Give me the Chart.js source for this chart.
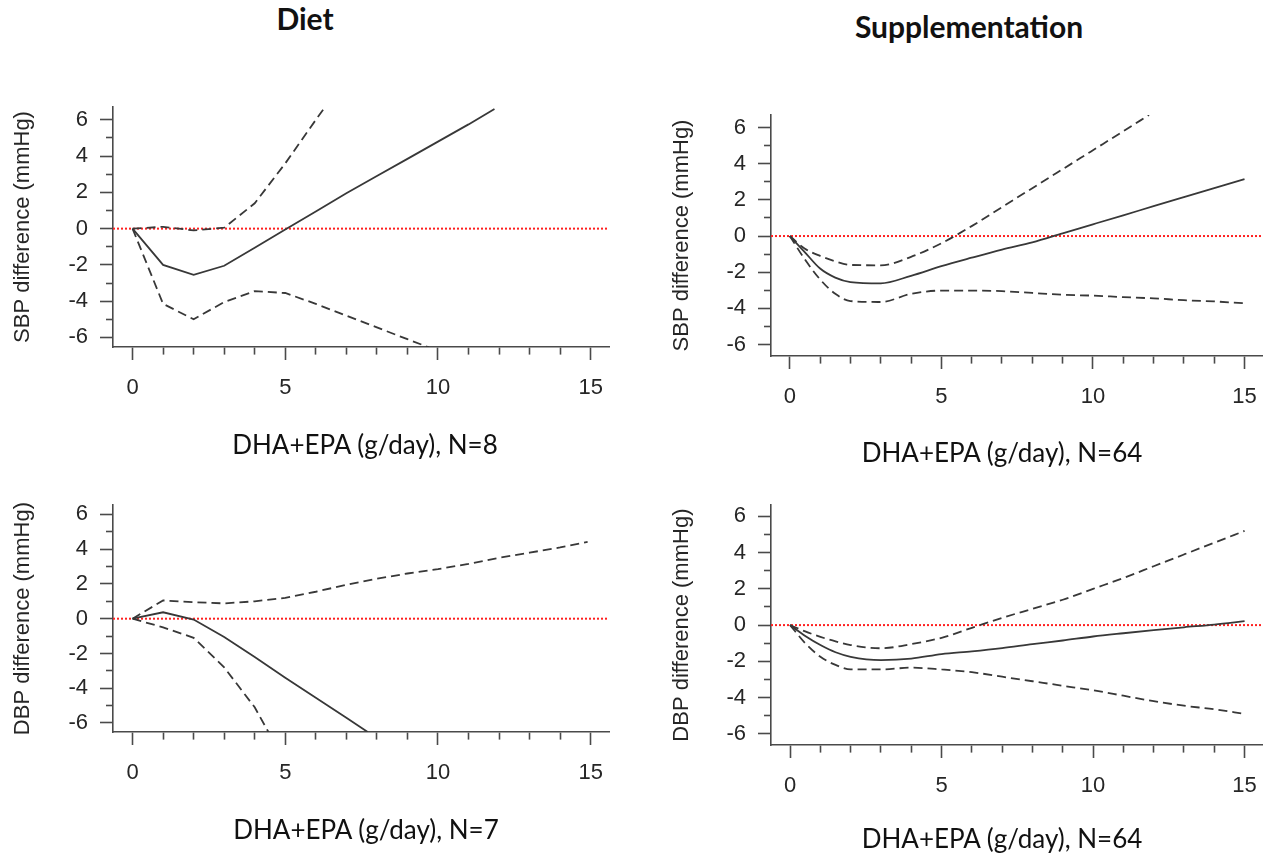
<!DOCTYPE html>
<html>
<head>
<meta charset="utf-8">
<title>DHA+EPA dose-response</title>
<script src="https://cdn.jsdelivr.net/npm/chart.js@4.4.1/dist/chart.umd.min.js"></script>
<style>
  html, body { margin: 0; padding: 0; background: #fff; }
  body { width: 1272px; height: 857px; position: relative; overflow: hidden; font-family: Lato, sans-serif; }
  .col-title { position: absolute; font-weight: 700; font-size: 30px; line-height: 30px; color: #111; white-space: nowrap; transform: translateX(-50%); }
  .x-title { position: absolute; font-size: 26px; line-height: 26px; color: #111; white-space: nowrap; transform: translateX(-50%); }
  .panel { position: absolute; }
</style>
</head>
<body>
<div class="col-title" style="left:305px; top:3px;">Diet</div>
<div class="col-title" style="left:969px; top:11px;">Supplementation</div>

<div class="panel" style="left:0; top:60px; width:636px; height:420px;"><canvas id="dietSbp"></canvas></div>
<div class="panel" style="left:658px; top:60px; width:614px; height:420px;"><canvas id="suppSbp"></canvas></div>
<div class="panel" style="left:0; top:480px; width:636px; height:377px;"><canvas id="dietDbp"></canvas></div>
<div class="panel" style="left:658px; top:480px; width:614px; height:377px;"><canvas id="suppDbp"></canvas></div>

<div class="x-title" style="left:365px; top:431px;">DHA+EPA (g/day), N=8</div>
<div class="x-title" style="left:1002px; top:439px;">DHA+EPA (g/day), N=64</div>
<div class="x-title" style="left:366px; top:816px;">DHA+EPA (g/day), N=7</div>
<div class="x-title" style="left:1002px; top:825px;">DHA+EPA (g/day), N=64</div>

<script>
// ---- Diet, systolic blood pressure (N=8) ----
const dietSbpFitDose   = [0, 1, 2, 3, 4, 5, 6, 7, 8, 9, 10, 11, 11.85];
const dietSbpFit       = [0, -2.0, -2.55, -2.05, -1.05, -0.05, 0.95, 1.95, 2.9, 3.85, 4.8, 5.75, 6.6];
const dietSbpUpperDose = [0, 1, 2, 3, 4, 5, 6, 6.3];
const dietSbpUpper     = [0, 0.1, -0.1, 0.05, 1.4, 3.6, 6.0, 6.7];
const dietSbpLowerDose = [0, 1, 2, 3, 4, 5, 6, 7, 8, 9, 9.7];
const dietSbpLower     = [0, -4.15, -5.0, -4.05, -3.45, -3.55, -4.15, -4.8, -5.45, -6.1, -6.55];

// ---- Supplementation, systolic blood pressure (N=64) ----
const suppDose         = [0, 0.5, 1, 1.5, 2, 3, 4, 5, 6, 7, 8, 9, 10, 11, 12, 13, 14, 15];
const suppSbpFit       = [0, -0.9, -1.8, -2.3, -2.55, -2.62, -2.2, -1.67, -1.2, -0.75, -0.35, 0.15, 0.65, 1.15, 1.65, 2.15, 2.65, 3.15];
const suppSbpUpperDose = [0, 0.5, 1, 1.5, 2, 3, 4, 5, 6, 7, 8, 9, 10, 11, 11.85];
const suppSbpUpper     = [0, -0.7, -1.1, -1.4, -1.6, -1.62, -1.15, -0.4, 0.55, 1.6, 2.65, 3.7, 4.75, 5.8, 6.7];
const suppSbpLower     = [0, -1.3, -2.4, -3.2, -3.6, -3.65, -3.2, -3.02, -3.02, -3.05, -3.15, -3.25, -3.3, -3.38, -3.45, -3.55, -3.62, -3.72];

// ---- Diet, diastolic blood pressure (N=7) ----
const dietDbpFitDose   = [0, 1, 2, 3, 4, 5, 6, 7, 7.7];
const dietDbpFit       = [0, 0.37, -0.05, -1.05, -2.2, -3.4, -4.55, -5.7, -6.52];
const dietDbpUpperDose = [0, 1, 2, 3, 4, 5, 6, 7, 8, 9, 10, 11, 12, 13, 14, 14.9];
const dietDbpUpper     = [0, 1.05, 0.95, 0.88, 1.0, 1.2, 1.55, 1.95, 2.3, 2.6, 2.85, 3.15, 3.5, 3.8, 4.1, 4.42];
const dietDbpLowerDose = [0, 1, 2, 3, 4, 4.45];
const dietDbpLower     = [0, -0.5, -1.1, -2.8, -5.1, -6.52];

// ---- Supplementation, diastolic blood pressure (N=64) ----
const suppDbpFit       = [0, -0.6, -1.1, -1.5, -1.75, -1.93, -1.85, -1.6, -1.45, -1.27, -1.05, -0.85, -0.63, -0.45, -0.28, -0.12, 0.03, 0.22];
const suppDbpUpper     = [0, -0.35, -0.65, -0.9, -1.1, -1.28, -1.05, -0.7, -0.15, 0.4, 0.9, 1.4, 2.0, 2.6, 3.25, 3.9, 4.55, 5.2];
const suppDbpLower     = [0, -1.0, -1.75, -2.2, -2.45, -2.45, -2.35, -2.45, -2.6, -2.85, -3.1, -3.35, -3.6, -3.9, -4.2, -4.45, -4.65, -4.9];

// Axis labelling
const xMajorEvery = 5;
const yMajorEvery = 2;
const sbpTitle = 'SBP difference (mmHg)';
const dbpTitle = 'DBP difference (mmHg)';

const AXIS_COLOR = '#4a4a4a';
const LINE_COLOR = '#383838';
const TEXT_COLOR = '#262626';
const DASH = [9, 5];
const TICK_LEN = 13;
const MINOR_LEN = 7;

function pts(xs, ys) { return xs.map((x, i) => ({ x: x, y: ys[i] })); }

function curve(xs, ys, dash, smooth) {
  return {
    data: pts(xs, ys),
    borderColor: LINE_COLOR,
    borderWidth: 1.8,
    borderDash: dash,
    pointRadius: 0,
    tension: smooth ? 0.4 : 0,
    cubicInterpolationMode: smooth ? 'monotone' : 'default',
    fill: false
  };
}

function makePanel(id, p) {
  const minorX = v => v % xMajorEvery !== 0;
  const minorY = v => v % yMajorEvery !== 0;
  return new Chart(document.getElementById(id), {
    type: 'line',
    data: {
      datasets: [
        curve(p.fitX, p.fit, [], p.smooth),
        curve(p.upX, p.up, DASH, p.smooth),
        curve(p.loX, p.lo, DASH, p.smooth),
        {
          // reference line at zero difference
          data: [{ x: p.xMin, y: 0 }, { x: p.xMax, y: 0 }],
          borderColor: '#ff2020',
          borderWidth: 2,
          borderDash: [2, 2],
          pointRadius: 0
        }
      ]
    },
    options: {
      responsive: true,
      maintainAspectRatio: false,
      animation: false,
      events: [],
      layout: { padding: { left: 0, top: p.padTop, right: p.padRight, bottom: p.padBottom } },
      plugins: { legend: { display: false }, tooltip: { enabled: false } },
      scales: {
        x: {
          type: 'linear',
          position: 'bottom',
          min: p.xMin,
          max: p.xMax,
          afterFit: s => { s.height = p.xAxisHeight; },
          border: { display: true, color: AXIS_COLOR, width: 1.6 },
          grid: {
            drawOnChartArea: false,
            drawTicks: true,
            tickLength: TICK_LEN,
            tickColor: AXIS_COLOR,
            tickWidth: 1.6,
            tickBorderDash: c => (c.tick && minorX(c.tick.value)) ? [MINOR_LEN, 60] : []
          },
          ticks: {
            stepSize: 1,
            includeBounds: false,
            autoSkip: false,
            maxRotation: 0,
            padding: 15,
            color: TEXT_COLOR,
            font: { family: 'Liberation Sans', size: 22 },
            callback: v => minorX(v) ? '' : String(v)
          },
          title: { display: false }
        },
        y: {
          type: 'linear',
          position: 'left',
          min: p.yMin,
          max: p.yMax,
          afterFit: s => { s.width = 113; },
          border: { display: true, color: AXIS_COLOR, width: 1.6 },
          grid: {
            drawOnChartArea: false,
            drawTicks: true,
            tickLength: TICK_LEN,
            tickColor: AXIS_COLOR,
            tickWidth: 1.6,
            tickBorderDash: c => (c.tick && minorY(c.tick.value)) ? [MINOR_LEN, 60] : [],
            tickBorderDashOffset: c => (c.tick && minorY(c.tick.value)) ? MINOR_LEN + 60 - (TICK_LEN - MINOR_LEN) : 0
          },
          ticks: {
            stepSize: 1,
            includeBounds: false,
            autoSkip: false,
            padding: 12,
            color: TEXT_COLOR,
            font: { family: 'Liberation Sans', size: 22 },
            callback: v => minorY(v) ? '' : String(v)
          },
          title: {
            display: true,
            text: p.yTitle,
            color: TEXT_COLOR,
            font: { family: 'Liberation Sans', size: 22, lineHeight: 1 },
            padding: { top: p.yTitlePad, bottom: 0 }
          }
        }
      }
    }
  });
}

makePanel('dietSbp', {
  fitX: dietSbpFitDose, fit: dietSbpFit,
  upX: dietSbpUpperDose, up: dietSbpUpper,
  loX: dietSbpLowerDose, lo: dietSbpLower,
  smooth: false,
  xMin: -0.64, xMax: 15.6, yMin: -6.53, yMax: 6.71,
  padTop: 47, padRight: 27, padBottom: 23, xAxisHeight: 110, yTitlePad: 12,
  yTitle: sbpTitle
});

makePanel('suppSbp', {
  fitX: suppDose, fit: suppSbpFit,
  upX: suppSbpUpperDose, up: suppSbpUpper,
  loX: suppDose, lo: suppSbpLower,
  smooth: true,
  xMin: -0.62, xMax: 15.6, yMin: -6.64, yMax: 6.70,
  padTop: 55, padRight: 7, padBottom: 15, xAxisHeight: 109, yTitlePad: 13,
  yTitle: sbpTitle
});

makePanel('dietDbp', {
  fitX: dietDbpFitDose, fit: dietDbpFit,
  upX: dietDbpUpperDose, up: dietDbpUpper,
  loX: dietDbpLowerDose, lo: dietDbpLower,
  smooth: false,
  xMin: -0.64, xMax: 15.6, yMin: -6.52, yMax: 6.53,
  padTop: 13, padRight: 27, padBottom: 15, xAxisHeight: 110, yTitlePad: 12,
  yTitle: dbpTitle
});

makePanel('suppDbp', {
  fitX: suppDose, fit: suppDbpFit,
  upX: suppDose, up: suppDbpUpper,
  loX: suppDose, lo: suppDbpLower,
  smooth: true,
  xMin: -0.63, xMax: 15.58, yMin: -6.62, yMax: 6.62,
  padTop: 25, padRight: 5, padBottom: 6, xAxisHeight: 106, yTitlePad: 13,
  yTitle: dbpTitle
});
</script>
</body>
</html>
